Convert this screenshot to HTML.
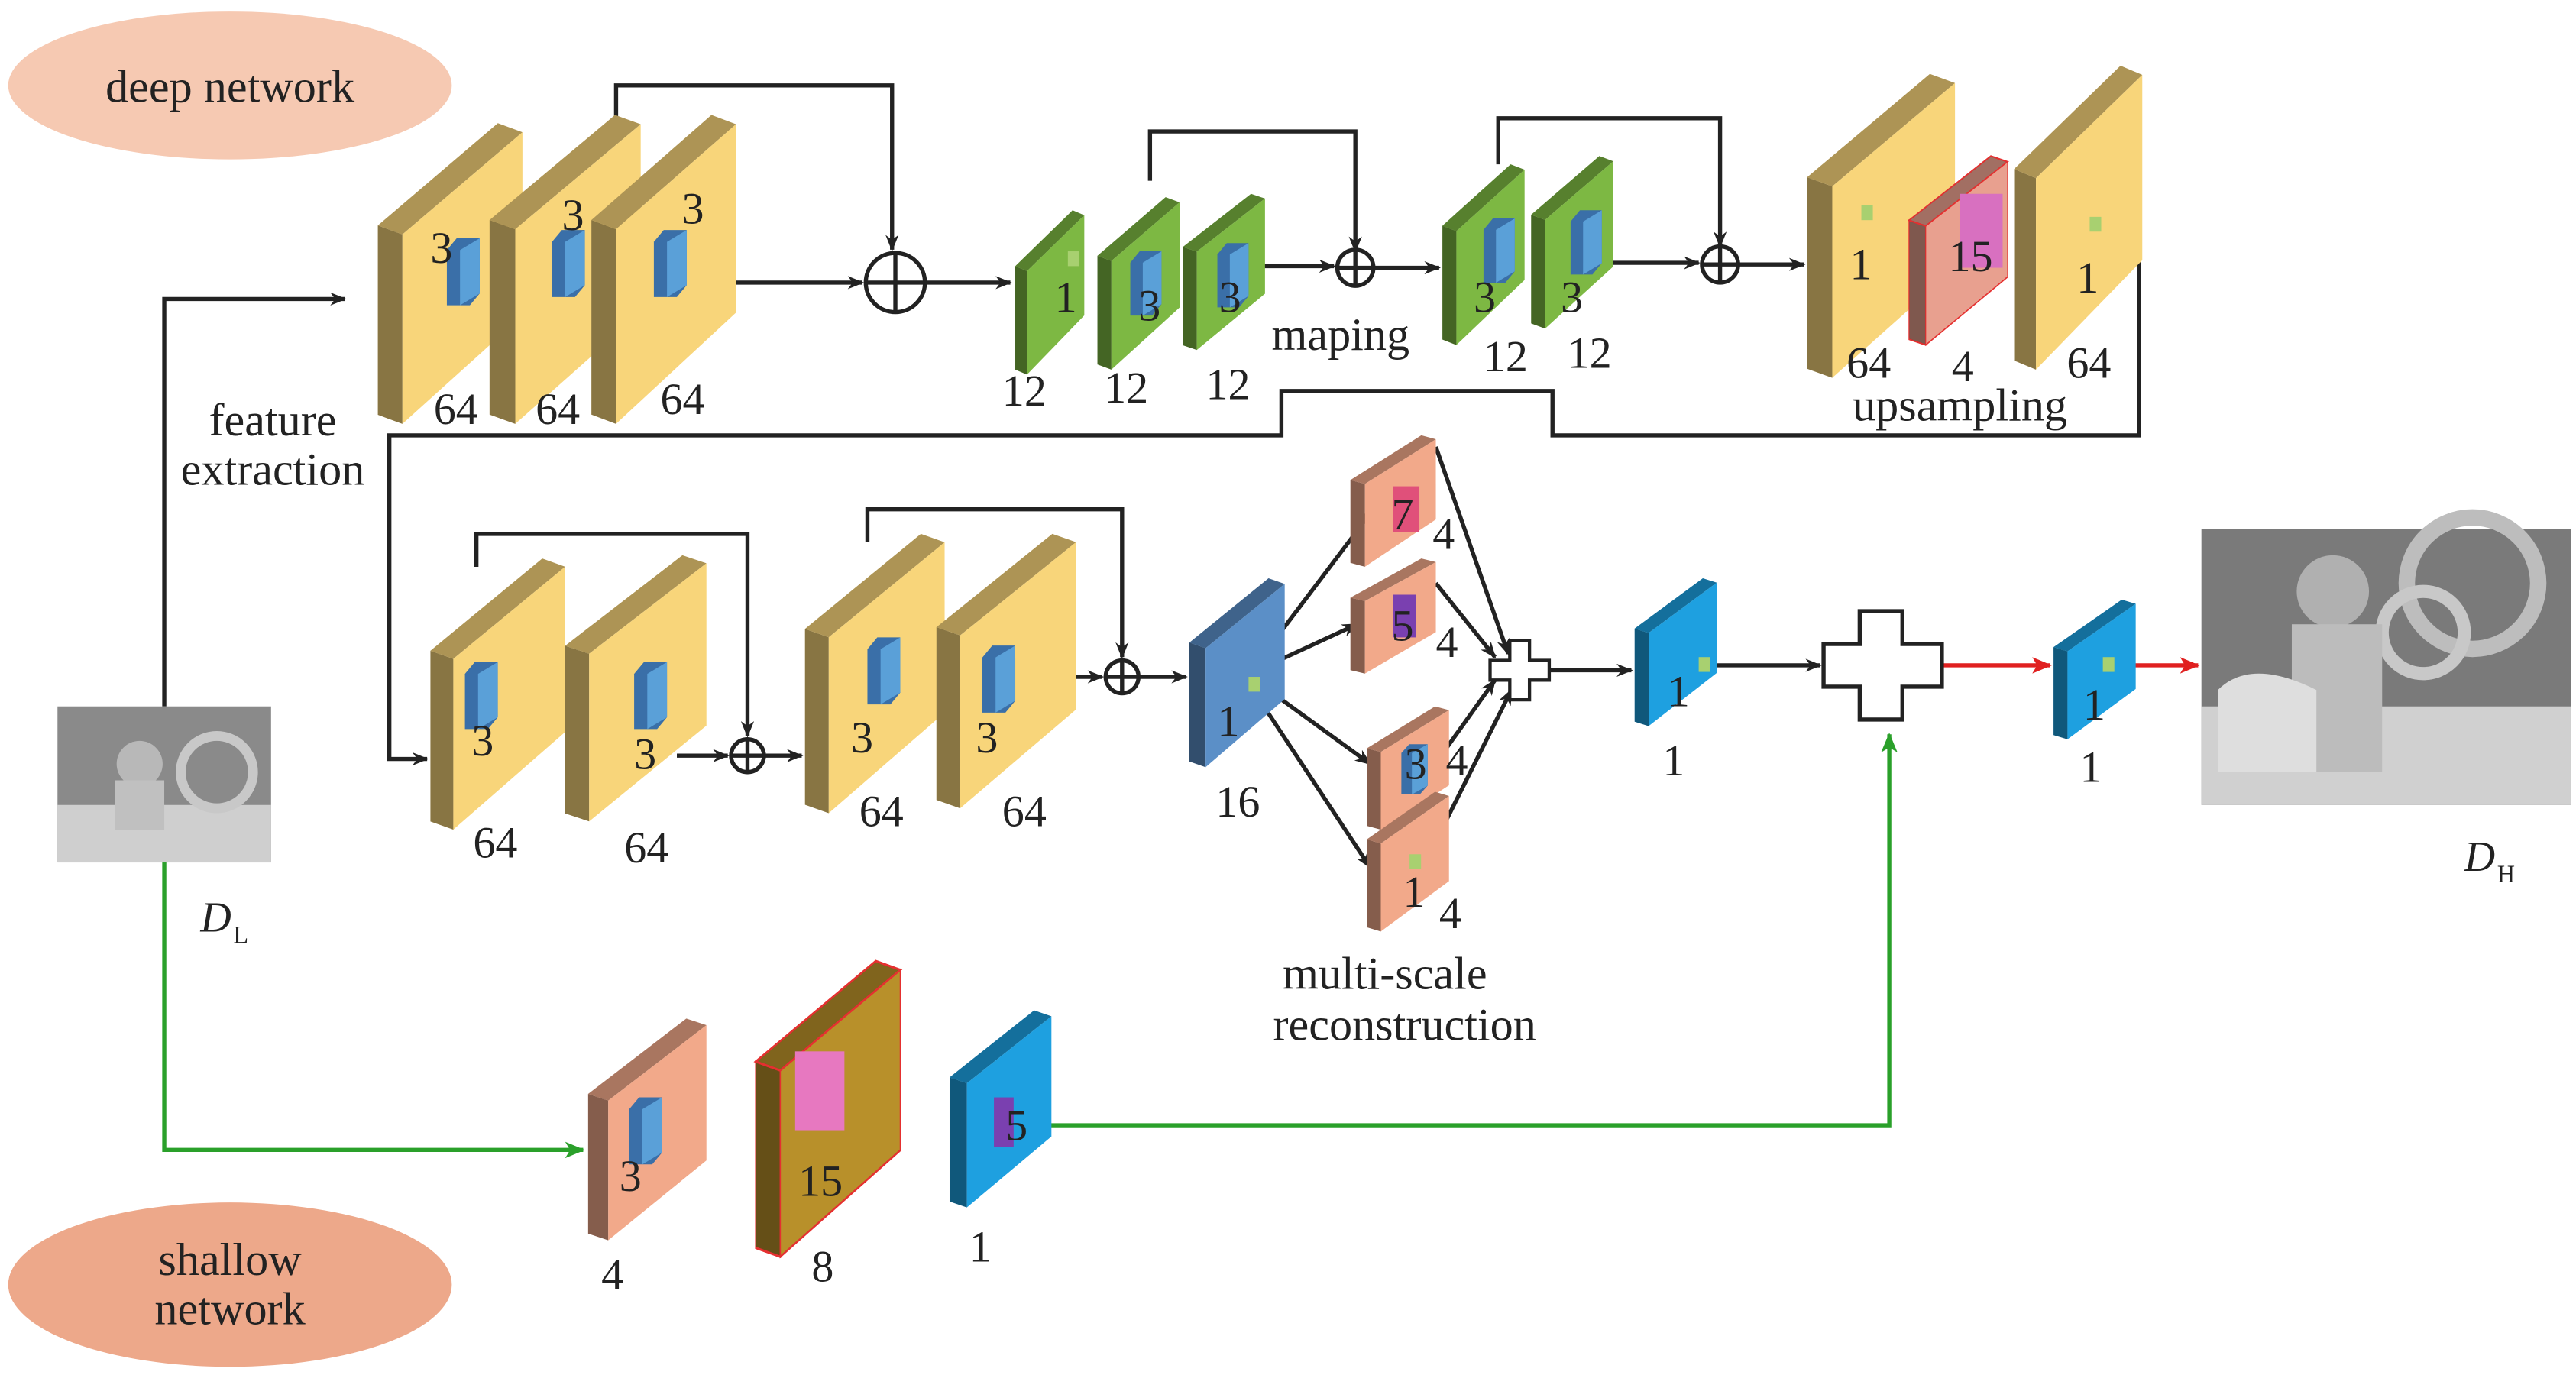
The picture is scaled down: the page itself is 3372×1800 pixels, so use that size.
<!DOCTYPE html>
<html><head><meta charset="utf-8"><style>
html,body{margin:0;padding:0;background:#fff;}
svg{display:block;}
text{font-family:"Liberation Serif",serif;fill:#222;}
</style></head><body>
<svg width="3372" height="1800" viewBox="0 0 1568 837" xmlns="http://www.w3.org/2000/svg">
<defs>
<g id="slab">
  <polygon points="0,34 17,37 17,100 0,97" fill="currentColor"/>
  <polygon points="0,34 17,37 17,100 0,97" fill="#000" fill-opacity="0.45"/>
  <polygon points="0,34 83,0 100,3 17,37" fill="currentColor"/>
  <polygon points="0,34 83,0 100,3 17,37" fill="#000" fill-opacity="0.3"/>
  <polygon points="17,37 100,3 100,64 17,100" fill="currentColor"/>
</g>
<g id="kb">
  <polygon points="0,3 3,0 10,0 10,14 7,17 0,17" fill="#3a6fa8"/>
  <polygon points="4,3 10,0 10,14 4,17" fill="#5aa0d8"/>
</g>
<marker id="ah" markerWidth="10" markerHeight="8" refX="9" refY="4" orient="auto" markerUnits="userSpaceOnUse"><path d="M0,0 L10,4 L0,8 L3,4z" fill="#222"/></marker>
<marker id="ar" markerWidth="12" markerHeight="10" refX="11" refY="5" orient="auto" markerUnits="userSpaceOnUse"><path d="M0,0 L12,5 L0,10 L3,5z" fill="#e02020"/></marker>
<marker id="ag" markerWidth="12" markerHeight="10" refX="11" refY="5" orient="auto" markerUnits="userSpaceOnUse"><path d="M0,0 L12,5 L0,10 L3,5z" fill="#2aa02a"/></marker>
</defs>

<ellipse cx="140" cy="52" rx="135" ry="45" fill="#f6c9b2"/>
<text x="140" y="62" font-size="28" text-anchor="middle">deep network</text>
<ellipse cx="140" cy="782" rx="135" ry="50" fill="#eda88a"/>
<text x="140" y="776" font-size="28" text-anchor="middle">shallow</text>
<text x="140" y="806" font-size="28" text-anchor="middle">network</text>

<g stroke="#222" stroke-width="2.5" fill="none">
<path d="M100,430 V182 H210" marker-end="url(#ah)"/>
<path d="M375,75 V52 H543 V152" marker-end="url(#ah)"/>
<circle cx="545" cy="172" r="18"/><path d="M527,172 H563 M545,154 V190"/>
<path d="M430,172 H525" marker-end="url(#ah)"/>
<path d="M563,172 H615" marker-end="url(#ah)"/>
<path d="M700,110 V80 H825 V153" marker-end="url(#ah)"/>
<circle cx="825" cy="163" r="11"/><path d="M814,163 H836 M825,152 V174"/>
<path d="M762,162 H812" marker-end="url(#ah)"/>
<path d="M836,163 H876" marker-end="url(#ah)"/>
<path d="M912,100 V72 H1047 V150" marker-end="url(#ah)"/>
<circle cx="1047" cy="161" r="11"/><path d="M1036,161 H1058 M1047,150 V172"/>
<path d="M970,160 H1034" marker-end="url(#ah)"/>
<path d="M1058,161 H1098" marker-end="url(#ah)"/>
<path d="M1282,160 H1302 V265 H945 V238 H780 V265 H237 V462 H260" marker-end="url(#ah)"/>
<path d="M290,345 V325 H455 V448" marker-end="url(#ah)"/>
<circle cx="455" cy="460" r="10"/><path d="M445,460 H465 M455,450 V470"/>
<path d="M412,460 H443" marker-end="url(#ah)"/>
<path d="M465,460 H488" marker-end="url(#ah)"/>
<path d="M528,330 V310 H683 V400" marker-end="url(#ah)"/>
<circle cx="683" cy="412" r="10"/><path d="M673,412 H693 M683,402 V422"/>
<path d="M620,412 H671" marker-end="url(#ah)"/>
<path d="M693,412 H722" marker-end="url(#ah)"/>
<path d="M768,400 L836,310" marker-end="url(#ah)"/>
<path d="M772,405 L826,380" marker-end="url(#ah)"/>
<path d="M772,420 L834,465" marker-end="url(#ah)"/>
<path d="M768,428 L834,528" marker-end="url(#ah)"/>
<path d="M874,272 L918,398" marker-end="url(#ah)"/>
<path d="M874,355 L910,400" marker-end="url(#ah)"/>
<path d="M880,456 L910,414" marker-end="url(#ah)"/>
<path d="M880,500 L920,420" marker-end="url(#ah)"/>
<path d="M943,408 H993" marker-end="url(#ah)"/>
<path d="M1042,405 H1108" marker-end="url(#ah)"/>
</g>
<path d="M1182,405 H1248" stroke="#e02020" stroke-width="2.5" marker-end="url(#ar)"/>
<path d="M1292,405 H1338" stroke="#e02020" stroke-width="2.5" marker-end="url(#ar)"/>
<path d="M100,525 V700 H355" stroke="#2aa02a" stroke-width="2.5" fill="none" marker-end="url(#ag)"/>
<path d="M630,685 H1150 V447" stroke="#2aa02a" stroke-width="2.5" fill="none" marker-end="url(#ag)"/>

<polygon points="919,390 931,390 931,402 943,402 943,414 931,414 931,426 919,426 919,414 907,414 907,402 919,402" fill="#fff" stroke="#222" stroke-width="2"/>
<polygon points="1132,372 1158,372 1158,392 1182,392 1182,418 1158,418 1158,438 1132,438 1132,418 1110,418 1110,392 1132,392" fill="#fff" stroke="#222" stroke-width="2.5"/>

<g color="#f8d57a">
<use href="#slab" transform="translate(230,75) scale(0.88,1.83)"/>
<use href="#slab" transform="translate(298,70) scale(0.92,1.88)"/>
<use href="#slab" transform="translate(360,70) scale(0.88,1.88)"/>
<use href="#slab" transform="translate(1100,45) scale(0.9,1.85)"/>
<use href="#slab" transform="translate(1226,40) scale(0.78,1.85)"/>
<use href="#slab" transform="translate(262,340) scale(0.82,1.65)"/>
<use href="#slab" transform="translate(344,338) scale(0.86,1.62)"/>
<use href="#slab" transform="translate(490,325) scale(0.85,1.7)"/>
<use href="#slab" transform="translate(570,325) scale(0.85,1.67)"/>
</g>
<g color="#7db843">
<use href="#slab" transform="translate(618,128) scale(0.42,1.0)"/>
<use href="#slab" transform="translate(668,120) scale(0.5,1.05)"/>
<use href="#slab" transform="translate(720,118) scale(0.5,0.95)"/>
<use href="#slab" transform="translate(878,100) scale(0.5,1.1)"/>
<use href="#slab" transform="translate(932,95) scale(0.5,1.05)"/>
</g>
<g color="#e8a08f" stroke="#e53030" stroke-width="0.8"><use href="#slab" transform="translate(1162,95) scale(0.6,1.15)"/></g>
<g color="#5b8fc7"><use href="#slab" transform="translate(724,352) scale(0.58,1.15)"/></g>
<g color="#f2a98a">
<use href="#slab" transform="translate(822,265) scale(0.52,0.8)"/>
<use href="#slab" transform="translate(822,340) scale(0.52,0.7)"/>
<use href="#slab" transform="translate(832,430) scale(0.5,0.75)"/>
<use href="#slab" transform="translate(832,482) scale(0.5,0.85)"/>
<use href="#slab" transform="translate(358,620) scale(0.72,1.35)"/>
</g>
<g color="#1ea0e0">
<use href="#slab" transform="translate(995,352) scale(0.5,0.9)"/>
<use href="#slab" transform="translate(1250,365) scale(0.5,0.85)"/>
<use href="#slab" transform="translate(578,615) scale(0.62,1.2)"/>
</g>
<g color="#b8902a" stroke="#e53030" stroke-width="0.8"><use href="#slab" transform="translate(460,585) scale(0.88,1.8)"/></g>

<use href="#kb" transform="translate(272,145) scale(2,2.4)"/>
<use href="#kb" transform="translate(336,140) scale(2,2.4)"/>
<use href="#kb" transform="translate(398,140) scale(2,2.4)"/>
<use href="#kb" transform="translate(688,153) scale(1.9,2.3)"/>
<use href="#kb" transform="translate(741,148) scale(1.9,2.3)"/>
<use href="#kb" transform="translate(903,133) scale(1.9,2.3)"/>
<use href="#kb" transform="translate(956,128) scale(1.9,2.3)"/>
<use href="#kb" transform="translate(386,403) scale(2,2.4)"/>
<use href="#kb" transform="translate(528,388) scale(2,2.4)"/>
<use href="#kb" transform="translate(598,393) scale(2,2.4)"/>
<use href="#kb" transform="translate(283,403) scale(2,2.4)"/>
<use href="#kb" transform="translate(853,453) scale(1.6,1.8)"/>
<use href="#kb" transform="translate(383,668) scale(2,2.4)"/>
<rect x="484" y="640" width="30" height="48" fill="#e778c0"/>
<rect x="1193" y="118" width="26" height="45" fill="#d870c0"/>
<rect x="848" y="296" width="16" height="28" fill="#e0507a"/>
<rect x="848" y="362" width="14" height="26" fill="#7a40b0"/>
<rect x="605" y="668" width="12" height="30" fill="#7a40b0"/>
<g fill="#a8d070">
<rect x="650" y="153" width="7" height="9"/><rect x="1133" y="125" width="7" height="9"/><rect x="1272" y="132" width="7" height="9"/>
<rect x="760" y="412" width="7" height="9"/><rect x="1034" y="400" width="7" height="9"/><rect x="1280" y="400" width="7" height="9"/><rect x="858" y="520" width="7" height="9"/>
</g>

<g font-size="27">
<text x="262" y="160">3</text><text x="342" y="140">3</text><text x="415" y="136">3</text>
<text x="264" y="258">64</text><text x="326" y="258">64</text><text x="402" y="252">64</text>
<text x="642" y="190">1</text><text x="693" y="195">3</text><text x="742" y="190">3</text>
<text x="610" y="247">12</text><text x="672" y="245">12</text><text x="734" y="243">12</text>
<text x="897" y="190">3</text><text x="950" y="190">3</text>
<text x="903" y="226">12</text><text x="954" y="224">12</text>
<text x="1126" y="170">1</text><text x="1186" y="165">15</text><text x="1264" y="178">1</text>
<text x="1124" y="230">64</text><text x="1188" y="232">4</text><text x="1258" y="230">64</text>
<text x="287" y="460">3</text><text x="386" y="468">3</text><text x="518" y="458">3</text><text x="594" y="458">3</text>
<text x="288" y="522">64</text><text x="380" y="525">64</text><text x="523" y="503">64</text><text x="610" y="503">64</text>
<text x="741" y="448">1</text><text x="740" y="497">16</text>
<text x="847" y="322">7</text><text x="872" y="334">4</text>
<text x="847" y="390">5</text><text x="874" y="400">4</text>
<text x="855" y="474">3</text><text x="880" y="472">4</text>
<text x="854" y="552">1</text><text x="876" y="565">4</text>
<text x="1015" y="430">1</text><text x="1012" y="472">1</text>
<text x="1268" y="438">1</text><text x="1266" y="476">1</text>
<text x="377" y="725">3</text><text x="486" y="728">15</text><text x="612" y="694">5</text>
<text x="366" y="785">4</text><text x="494" y="780">8</text><text x="590" y="768">1</text>
</g>
<g font-size="28">
<text x="166" y="265" text-anchor="middle">feature</text>
<text x="166" y="295" text-anchor="middle">extraction</text>
<text x="816" y="213" text-anchor="middle">maping</text>
<text x="1193" y="256" text-anchor="middle">upsampling</text>
<text x="843" y="602" text-anchor="middle">multi-scale</text>
<text x="855" y="633" text-anchor="middle">reconstruction</text>
</g>
<text x="122" y="567" font-size="26" font-style="italic">D</text><text x="142" y="574" font-size="15">L</text>
<text x="1500" y="530" font-size="26" font-style="italic">D</text><text x="1520" y="537" font-size="15">H</text>

<g>
<rect x="35" y="430" width="130" height="95" fill="#8a8a8a"/>
<rect x="35" y="490" width="130" height="35" fill="#cfcfcf"/>
<circle cx="132" cy="470" r="22" fill="none" stroke="#c8c8c8" stroke-width="6"/>
<circle cx="85" cy="465" r="14" fill="#b8b8b8"/>
<rect x="70" y="475" width="30" height="30" fill="#c0c0c0"/>
</g>
<g>
<rect x="1340" y="322" width="225" height="168" fill="#7a7a7a"/>
<rect x="1340" y="430" width="225" height="60" fill="#d0d0d0"/>
<circle cx="1505" cy="355" r="40" fill="none" stroke="#bdbdbd" stroke-width="10"/>
<circle cx="1475" cy="385" r="25" fill="none" stroke="#c8c8c8" stroke-width="8"/>
<circle cx="1420" cy="360" r="22" fill="#b0b0b0"/>
<rect x="1395" y="380" width="55" height="90" fill="#bcbcbc"/>
<path d="M1350,420 q20,-20 60,0 v50 h-60z" fill="#dedede"/>
</g>
</svg>
</body></html>
